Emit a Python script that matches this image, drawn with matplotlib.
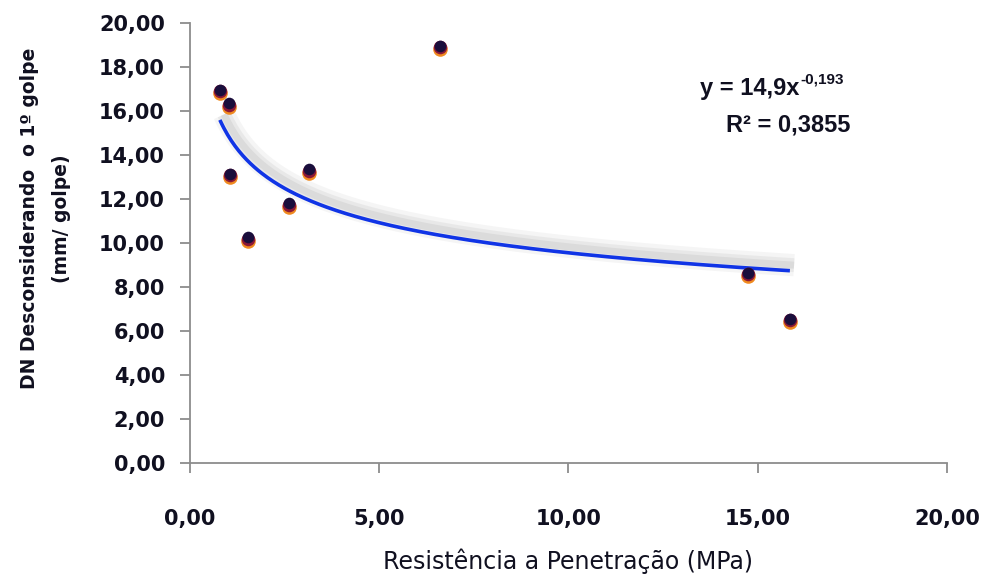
import numpy as np
import matplotlib.pyplot as plt
import matplotlib.patheffects as pe
import matplotlib.transforms as mtransforms
from matplotlib.ticker import FuncFormatter

# dados
resistencia = [0.79, 1.03, 1.06, 1.53, 2.61, 3.14, 6.60, 14.75, 15.85]
dn = [16.8, 16.2, 13.0, 10.1, 11.65, 13.2, 18.8, 8.5, 6.4]

# linha de tendência (potência) mostrada no gráfico
coef_a = 14.9
coef_b = -0.193
r2 = 0.3855

fig = plt.figure(figsize=(9.86, 5.79), dpi=100)
ax = fig.add_axes([0.1927, 0.2003, 0.7677, 0.76])

# linha de tendência com sombra suave
xs = np.linspace(min(resistencia), max(resistencia), 300)
ys = coef_a * xs ** coef_b
ax.plot(xs, ys, color='#1034e6', lw=2.6, zorder=3, solid_capstyle='butt',
        path_effects=[pe.SimpleLineShadow(offset=(3, 4), shadow_color='#c8c8c8', alpha=0.18, linewidth=16),
                      pe.SimpleLineShadow(offset=(3, 4), shadow_color='#b8b8b8', alpha=0.2, linewidth=10),
                      pe.SimpleLineShadow(offset=(3, 4), shadow_color='#a8a8a8', alpha=0.2, linewidth=5),
                      pe.Normal()])

# pontos: base laranja e topo escuro deslocado
ax.scatter(resistencia, dn, s=110, color='#f08a20', zorder=4, linewidths=0)
shift = mtransforms.ScaledTranslation(0, 1.5 / 72, fig.dpi_scale_trans)
ax.scatter(resistencia, dn, s=95, color='#8a1838', zorder=5, linewidths=0,
           transform=ax.transData + shift)
shift2 = mtransforms.ScaledTranslation(0, 2.5 / 72, fig.dpi_scale_trans)
ax.scatter(resistencia, dn, s=70, color='#1a0e3c', zorder=6, linewidths=0,
           transform=ax.transData + shift2)

ax.set_xlim(0, 20)
ax.set_ylim(0, 20)
ax.set_xticks([0, 5, 10, 15, 20])
ax.set_yticks(np.arange(0, 21, 2))
fmt = FuncFormatter(lambda v, p: f'{v:.2f}'.replace('.', ','))
ax.xaxis.set_major_formatter(fmt)
ax.yaxis.set_major_formatter(fmt)

for s in ['top', 'right']:
    ax.spines[s].set_visible(False)
for s in ['left', 'bottom']:
    ax.spines[s].set_color('#8c8c8c')
    ax.spines[s].set_linewidth(1.3)
ax.tick_params(axis='both', colors='#8c8c8c', length=7, width=1.3, direction='out')
ax.tick_params(axis='y', labelcolor='#101020', labelsize=15, pad=11)
ax.tick_params(axis='x', labelcolor='#101020', labelsize=15, pad=26)
for lbl in ax.get_xticklabels() + ax.get_yticklabels():
    lbl.set_fontweight('bold')

ax.set_xlabel('Resistência a Penetração (MPa)', fontsize=17, color='#101020', labelpad=14)
ax.set_ylabel('DN Desconsiderando  o 1º golpe\n(mm/ golpe)', fontsize=13.5,
              fontweight='bold', color='#101020', linespacing=1.9)
ax.yaxis.set_label_coords(-0.157, 0.555)

eq_font = dict(fontsize=17, fontweight='bold', color='#101020', family='Liberation Sans')
ax.text(0.805, 0.852, 'y = 14,9x', transform=ax.transAxes, ha='right', va='center', **eq_font)
ax.annotate('-0,193', xy=(0.805, 0.852), xycoords='axes fraction', xytext=(1, 6),
            textcoords='offset points', ha='left', va='center',
            fontsize=11, fontweight='bold', color='#101020', family='Liberation Sans')
ax.text(0.79, 0.768, 'R² = 0,3855', transform=ax.transAxes, ha='center', va='center', **eq_font)

fig.savefig('out.png', dpi=100)
